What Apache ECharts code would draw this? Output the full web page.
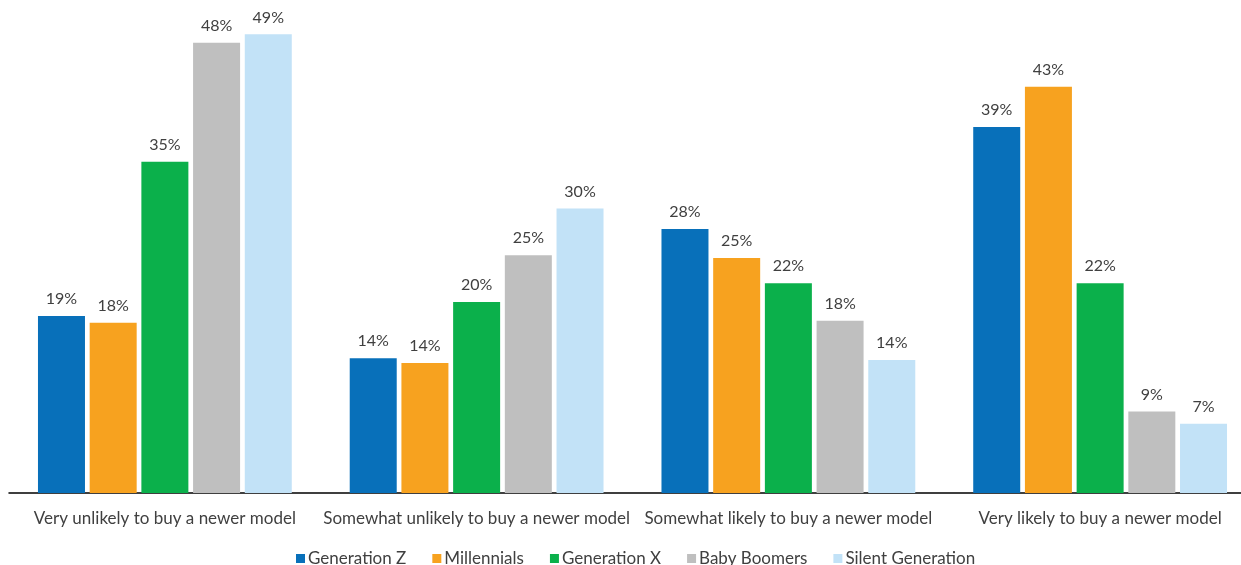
<!DOCTYPE html>
<html>
<head>
<meta charset="utf-8">
<script src="https://cdn.jsdelivr.net/npm/echarts@6/dist/echarts.min.js"></script>
<style>html,body{margin:0;padding:0;background:#fff}#c{width:1241px;height:565px}</style>
</head>
<body>
<div id="c"></div>
<script>
const categories = ["Very unlikely to buy a newer model", "Somewhat unlikely to buy a newer model", "Somewhat likely to buy a newer model", "Very likely to buy a newer model"];
const seriesNames = ["Generation Z", "Millennials", "Generation X", "Baby Boomers", "Silent Generation"];
const genZ = [18.9, 14.4, 28.2, 39.1];
const millennials = [18.2, 13.9, 25.1, 43.4];
const genX = [35.4, 20.4, 22.4, 22.4];
const boomers = [48.1, 25.4, 18.4, 8.7];
const silent = [49.0, 30.4, 14.2, 7.4];
const colors = ["#0870BA", "#F7A21F", "#0BB04B", "#BFBFBF", "#C2E2F7"];

const dataSets = [genZ, millennials, genX, boomers, silent];
const font = "Lato, 'Open Sans', sans-serif";
const chart = echarts.init(document.getElementById('c'), null, {renderer: 'canvas'});
chart.setOption({
  animation: false,
  color: colors,
  textStyle: {fontFamily: font},
  grid: {left: 9, width: 1247, top: 25, bottom: 72, outerBoundsMode: 'none', containLabel: false},
  legend: {
    top: 550, left: 296, padding: 0,
    itemWidth: 9, itemHeight: 9, itemGap: 26,
    icon: 'rect',
    textStyle: {fontSize: 17, color: '#404040', fontFamily: font, padding: [0, 0, 0, -2]},
    data: seriesNames
  },
  xAxis: {
    type: 'category', data: categories,
    axisLine: {lineStyle: {color: '#000', width: 1.5}},
    axisTick: {show: false},
    axisLabel: {fontSize: 17, color: '#404040', margin: 17, interval: 0}
  },
  yAxis: {type: 'value', min: 0, max: 50, show: false, splitLine: {show: false}},
  series: dataSets.map((d, i) => ({
    name: seriesNames[i], type: 'bar', data: d,
    barWidth: 47, barGap: '10%',
    label: {show: true, position: 'top', distance: 9, fontSize: 16, color: '#404040',
      formatter: p => Math.round(p.value) + '%'}
  }))
});
</script>
</body>
</html>
